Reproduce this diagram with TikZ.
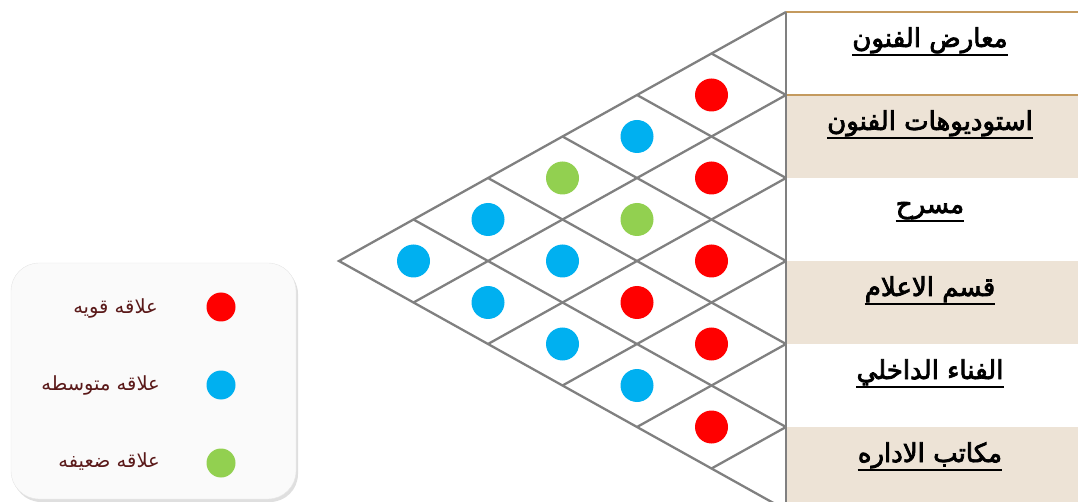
\documentclass[tikz,border=0pt]{standalone}
\usepackage{fontspec}
\usetikzlibrary{shadows}
\TeXXeTstate=1
\newfontfamily\arabicfont[Script=Arabic]{DejaVu Sans}
\newfontfamily\arabicbold[Script=Arabic,FakeBold=3]{DejaVu Sans}
\definecolor{strongred}{RGB}{255,0,0}
\definecolor{midblue}{RGB}{0,176,240}
\definecolor{weakgreen}{RGB}{146,208,80}
\definecolor{rowbeige}{RGB}{237,227,214}
\definecolor{rulebrown}{RGB}{196,154,94}
\definecolor{gridgray}{RGB}{128,128,128}
\definecolor{legtext}{RGB}{90,25,25}

\begin{document}
\begin{tikzpicture}[
    x=1pt, y=-1pt,
    grid/.style={draw=gridgray, line width=2.3pt},
    dot/.style={circle, fill=#1, minimum size=33pt, inner sep=0pt},
    legdot/.style={circle, fill=#1, minimum size=29pt, inner sep=0pt},
    rowlab/.style={font=\arabicbold\fontsize{26}{28}\selectfont, inner sep=0pt, anchor=base},
    leglab/.style={font=\arabicfont\fontsize{19.5}{21}\selectfont, text=legtext, inner sep=0pt, anchor=base east}
  ]
  \useasboundingbox (0,0) rectangle (1078,502);
  \clip (0,0) rectangle (1078,502);

  % table of spaces
  \foreach \r in {2,4,6}
    \fill[rowbeige] (787,{12+83*(\r-1)}) rectangle (1078,{12+83*\r});
  \draw[rulebrown, line width=2pt] (786,12) -- (1078,12);
  \draw[rulebrown, line width=2pt] (786,95) -- (1078,95);

  \node[rowlab] (lab1) at (930,47) {\beginR معارض الفنون\endR};
  \node[rowlab] (lab2) at (930,130) {\beginR استوديوهات الفنون\endR};
  \node[rowlab] (lab3) at (930,213) {\beginR مسرح\endR};
  \node[rowlab] (lab4) at (930,296) {\beginR قسم الاعلام\endR};
  \node[rowlab] (lab5) at (930,379) {\beginR الفناء الداخلي\endR};
  \node[rowlab] (lab6) at (930,462) {\beginR مكاتب الاداره\endR};
  \foreach \n in {1,...,6}
    \draw[line width=1.2pt] ([yshift=-8pt]lab\n.base west) -- ([yshift=-8pt]lab\n.base east);

  % relationship matrix
  \foreach \k in {0,...,6} {
    \coordinate (T\k) at ({786-74.5*\k},{12+41.5*\k});
    \coordinate (B\k) at ({786-74.5*\k},{510-41.5*\k});
    \coordinate (R\k) at (786,{12+83*\k});
  }
  \draw[grid] (T0) -- (T6) -- (B0);
  \draw[grid] (R0) -- (R6);
  \foreach \k in {1,...,5} {
    \pgfmathtruncatemacro\m{6-\k}
    \draw[grid] (T\k) -- (R\k);
    \draw[grid] (B\k) -- (R\m);
  }

  \foreach \i/\j/\c in {1/2/strongred, 2/3/strongred, 3/4/strongred, 4/5/strongred, 5/6/strongred,
                        1/3/midblue, 2/4/weakgreen, 3/5/strongred, 4/6/midblue,
                        1/4/weakgreen, 2/5/midblue, 3/6/midblue,
                        1/5/midblue, 2/6/midblue, 1/6/midblue}
    \node[dot=\c] (c\i\j) at ({786-74.5*(\j-\i)},{53.5+41.5*(\i+\j-2)}) {};

  % legend
  \node[draw=gray!20, fill=gray!4, rounded corners=28pt, minimum width=285pt, minimum height=236pt,
        drop shadow={shadow xshift=2pt, shadow yshift=-3pt, opacity=.25}] (legend) at (153.5,381) {};
  \node[legdot=strongred] (strong) at (221,307) {};
  \node[legdot=midblue] (medium) at (221,385) {};
  \node[legdot=weakgreen] (weak) at (221,463) {};
  \node[leglab] (strongtxt) at (158,313) {\beginR علاقه قويه\endR};
  \node[leglab] (mediumtxt) at (160,390) {\beginR علاقه متوسطه\endR};
  \node[leglab] (weaktxt) at (160,467) {\beginR علاقه ضعيفه\endR};
\end{tikzpicture}
\end{document}
